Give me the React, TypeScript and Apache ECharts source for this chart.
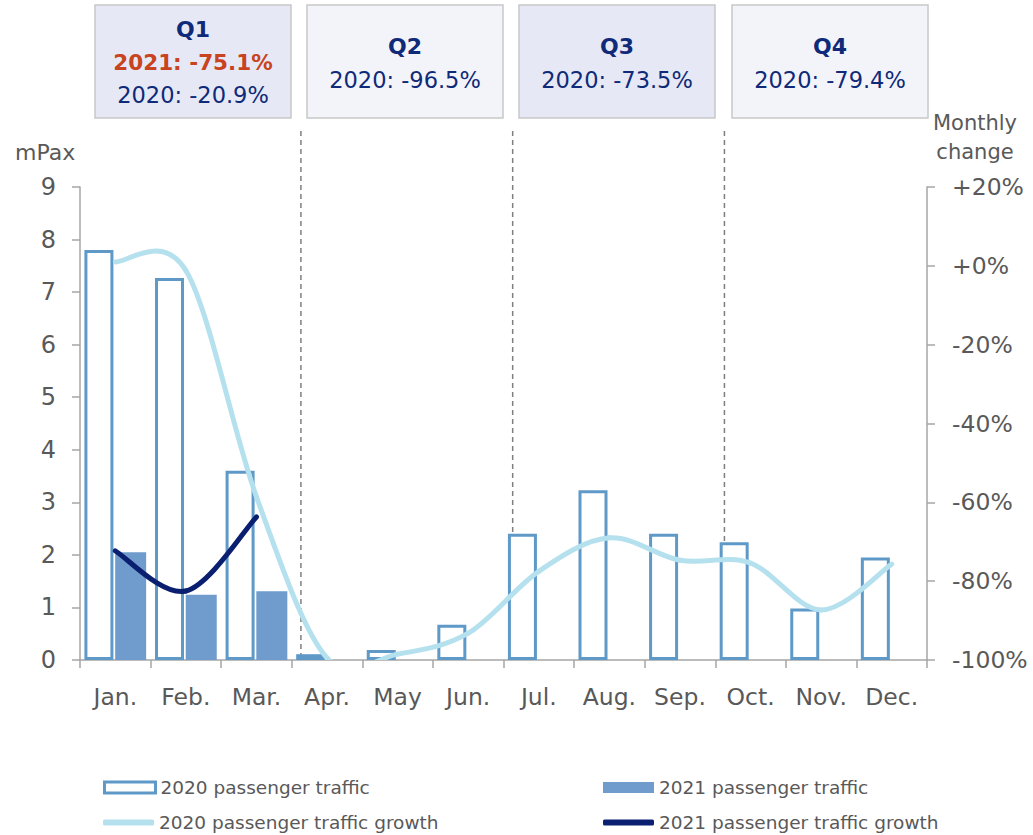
import React, { useEffect, useRef } from "react";
import * as echarts from "echarts";

const months = ["Jan.", "Feb.", "Mar.", "Apr.", "May", "Jun.", "Jul.", "Aug.", "Sep.", "Oct.", "Nov.", "Dec."];
const traffic2020 = [7.8, 7.27, 3.6, 0.11, 0.19, 0.67, 2.4, 3.23, 2.4, 2.24, 0.98, 1.95];
const traffic2021 = [2.05, 1.24, 1.31, null, null, null, null, null, null, null, null, null];
const growth2020 = [1, -1.2, -58.6, -99.5, -98.5, -93.2, -77.5, -69, -74.7, -75.4, -87.3, -75.7];
const growth2021 = [-72.3, -82.5, -63.7];
const leftTicks = { min: 0, max: 9, interval: 1 };
const rightTicks = { min: -100, max: 20, interval: 20 };

const quarters = [
  { title: "Q1", lines: [{ text: "2021: -75.1%", hl: true }, { text: "2020: -20.9%", hl: false }] },
  { title: "Q2", lines: [{ text: "2020: -96.5%", hl: false }] },
  { title: "Q3", lines: [{ text: "2020: -73.5%", hl: false }] },
  { title: "Q4", lines: [{ text: "2020: -79.4%", hl: false }] },
];

const FONT = "DejaVu Sans";
const GRAY = "#595959";
const NAVY = "#0f2a78";
const ORANGE = "#c8431e";
const C2020BAR = "#5e99c8";
const C2021BAR = "#6f9bcd";
const C2020LINE = "#b5e1ef";
const C2021LINE = "#0b1f70";

// Excel-like (Catmull-Rom) smoothed segment between point i and i+1
function smoothSegment(values: number[], color: string, width: number) {
  return (params: any, api: any) => {
    const i = params.dataIndex;
    const n = values.length;
    if (i >= n - 1) return null;
    const p = (k: number) => {
      const kk = Math.max(0, Math.min(n - 1, k));
      return api.coord([kk, values[kk]]);
    };
    const p0 = p(i - 1), p1 = p(i), p2 = p(i + 1), p3 = p(i + 2);
    const cs = params.coordSys;
    return {
      type: "group",
      clipPath: { type: "rect", shape: { x: cs.x - 20, y: cs.y - 20, width: cs.width + 40, height: cs.height + 20 } },
      children: [
        {
          type: "bezierCurve",
          shape: {
            x1: p1[0], y1: p1[1],
            cpx1: p1[0] + (p2[0] - p0[0]) / 6, cpy1: p1[1] + (p2[1] - p0[1]) / 6,
            cpx2: p2[0] - (p3[0] - p1[0]) / 6, cpy2: p2[1] - (p3[1] - p1[1]) / 6,
            x2: p2[0], y2: p2[1],
          },
          style: { stroke: color, lineWidth: width, fill: null, lineCap: "round" },
        },
      ],
    };
  };
}

export default function App() {
  const ref = useRef<HTMLDivElement>(null);
  useEffect(() => {
    const chart = echarts.init(ref.current!, null, { renderer: "svg" });
    const boxX = [95, 307, 519, 732];
    const boxW = 196;
    const graphics: any[] = [];
    quarters.forEach((q, i) => {
      const cx = boxX[i] + boxW / 2;
      graphics.push({
        type: "rect",
        shape: { x: boxX[i], y: 5, width: boxW, height: 113 },
        style: { fill: i % 2 === 0 ? "#e6e9f5" : "#f3f4fa", stroke: "#c8c8c8", lineWidth: 1.5 },
      });
      const n = q.lines.length + 1;
      const startY = n === 3 ? 29 : 46;
      const step = n === 3 ? 33 : 34;
      graphics.push({
        type: "text",
        style: { text: q.title, x: cx, y: startY, align: "center", verticalAlign: "middle", fontFamily: FONT, fontSize: 22, fontWeight: "bold", fill: NAVY },
      });
      q.lines.forEach((l, j) => {
        graphics.push({
          type: "text",
          style: {
            text: l.text, x: cx, y: startY + step * (j + 1), align: "center", verticalAlign: "middle",
            fontFamily: FONT, fontSize: l.hl ? 21.5 : 22.5, fontWeight: l.hl ? "bold" : "normal", fill: l.hl ? ORANGE : NAVY,
          },
        });
      });
    });
    graphics.push({
      type: "text",
      style: { text: "mPax", x: 15, y: 152, verticalAlign: "middle", fontFamily: FONT, fontSize: 22, fill: GRAY },
    });
    graphics.push({
      type: "text",
      style: { text: "Monthly\nchange", x: 975, y: 137, align: "center", verticalAlign: "middle", fontFamily: FONT, fontSize: 21, lineHeight: 29, fill: GRAY },
    });

    const legendBase = { itemWidth: 51, padding: 0, textStyle: { fontFamily: FONT, fontSize: 18.5, color: GRAY }, itemGap: 5 };
    const option: any = {
      animation: false,
      grid: { left: 80, right: 106, top: 187, bottom: 175 },
      xAxis: [
        {
          type: "category",
          data: months,
          axisLine: { lineStyle: { color: "#a6a6a6", width: 1.5 } },
          axisTick: { show: true, length: 8, lineStyle: { color: "#a6a6a6", width: 1.5 } },
          axisLabel: { color: GRAY, fontFamily: FONT, fontSize: 23.5, margin: 25, interval: 0, hideOverlap: false },
        },
      ],
      yAxis: [
        {
          type: "value",
          ...leftTicks,
          position: "left",
          splitLine: { show: false },
          axisLine: { show: true, lineStyle: { color: "#a6a6a6", width: 1.5 } },
          axisTick: { show: true, length: 8, lineStyle: { color: "#a6a6a6", width: 1.5 } },
          axisLabel: { color: GRAY, fontFamily: FONT, fontSize: 24, margin: 24 },
        },
        {
          type: "value",
          ...rightTicks,
          position: "right",
          splitLine: { show: false },
          axisLine: { show: true, lineStyle: { color: "#a6a6a6", width: 1.5 } },
          axisTick: { show: true, length: 8, lineStyle: { color: "#a6a6a6", width: 1.5 } },
          axisLabel: {
            color: GRAY, fontFamily: FONT, fontSize: 23.5, margin: 25,
            formatter: (v: number) => (v >= 0 ? "+" + v + "%" : v + "%"),
          },
        },
      ],
      legend: [
        { ...legendBase, left: 103, top: 778, itemHeight: 11, data: [{ name: "2020 passenger traffic", icon: "rect", itemStyle: { color: "#ffffff", borderColor: C2020BAR, borderWidth: 3 } }] },
        { ...legendBase, left: 603, top: 778, itemHeight: 11, data: [{ name: "2021 passenger traffic", icon: "rect", itemStyle: { color: C2021BAR, borderWidth: 0 } }] },
        { ...legendBase, left: 103, top: 813, itemHeight: 6, data: [{ name: "2020 passenger traffic growth", icon: "roundRect", itemStyle: { color: C2020LINE } }] },
        { ...legendBase, left: 603, top: 813, itemHeight: 6, data: [{ name: "2021 passenger traffic growth", icon: "roundRect", itemStyle: { color: C2021LINE } }] },
      ],
      series: [
        {
          name: "2020 passenger traffic",
          type: "bar",
          data: traffic2020,
          barWidth: 29,
          barGap: "6%",
          itemStyle: { color: "#ffffff", borderColor: C2020BAR, borderWidth: 3 },
        },
        {
          name: "2021 passenger traffic",
          type: "bar",
          data: traffic2021,
          barWidth: 31,
          itemStyle: { color: C2021BAR },
        },
        {
          name: "2020 passenger traffic growth",
          type: "custom",
          yAxisIndex: 1,
          data: growth2020.map((v, i) => [i, v]),
          encode: { x: 0, y: 1 },
          itemStyle: { color: C2020LINE },
          renderItem: smoothSegment(growth2020, C2020LINE, 5),
          z: 3,
        },
        {
          name: "2021 passenger traffic growth",
          type: "custom",
          yAxisIndex: 1,
          data: growth2021.map((v, i) => [i, v]),
          encode: { x: 0, y: 1 },
          itemStyle: { color: C2021LINE },
          renderItem: smoothSegment(growth2021, C2021LINE, 5),
          z: 4,
        },
      ],
      graphic: graphics,
    };
    chart.setOption(option);

    const c0 = chart.convertToPixel({ xAxisIndex: 0 }, months[0]) as number;
    const c1 = chart.convertToPixel({ xAxisIndex: 0 }, months[1]) as number;
    const band = c1 - c0;
    const dashed = [3, 6, 9].map((idx) => {
      const x = (chart.convertToPixel({ xAxisIndex: 0 }, months[idx]) as number) - band * 0.37;
      return {
        type: "line",
        shape: { x1: x, y1: 131, x2: x, y2: 660 },
        style: { stroke: "#7f7f7f", lineWidth: 1.5, lineDash: [5, 4] },
        z: 1,
      };
    });
    chart.setOption({ graphic: [...graphics, ...dashed] });

    return () => chart.dispose();
  }, []);
  return <div ref={ref} style={{ width: 1033, height: 835, position: "absolute", left: 0, top: 0 }} />;
}
